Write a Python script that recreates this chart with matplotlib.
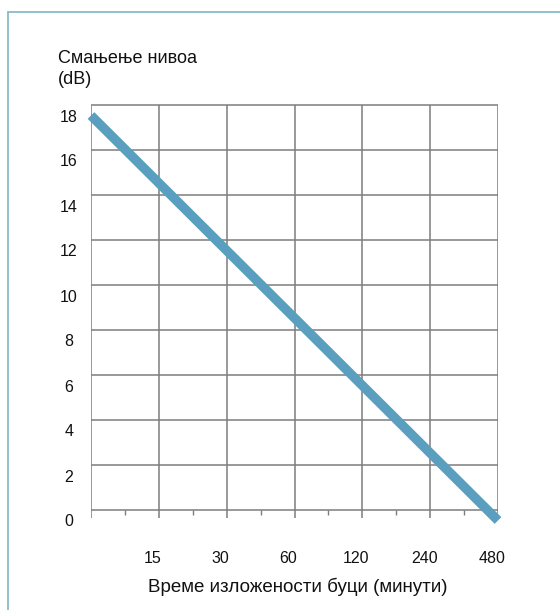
import numpy as np
import matplotlib
matplotlib.use('Agg')
import matplotlib.pyplot as plt
import matplotlib.patches as mpatches
from matplotlib.transforms import ScaledTranslation

plt.rcParams['font.family'] = ['Liberation Sans', 'DejaVu Sans']

# exposure time (minutes) vs level reduction (dB)
minutes = [7.5, 15, 30, 60, 120, 240, 480]
reduction = [18, 15, 12, 9, 6, 3, 0]
x_ticks = [15, 30, 60, 120, 240, 480]
x_tick_labels = ['15', '30', '60', '120', '240', '480']
y_ticks = [0, 2, 4, 6, 8, 10, 12, 14, 16, 18]

title = 'Смањење нивоа\n(dB)'
xlabel = 'Време изложености буци (минути)'

W, H = 560, 610
fig = plt.figure(figsize=(W / 100, H / 100), dpi=100)

# outer frame
frame = mpatches.Rectangle((8 / W, -0.1), 1.2, 1 - 12 / H + 0.1, transform=fig.transFigure,
                           fill=False, edgecolor='#7fb4c6', linewidth=1.2)
fig.patches.append(frame)

ax = fig.add_axes([91 / W, 1 - 530 / H, 407 / W, 430 / H])
ax.set_xscale('log', base=2)
ax.set_xlim(minutes[0], minutes[-1])
px_per_unit = 22.5
ax.set_ylim(-(530 - 520.5) / px_per_unit, (520.5 - 100) / px_per_unit)
for s in ax.spines.values():
    s.set_visible(False)

grid_off = 0.45  # grid sits slightly above the tick labels
grid_col = '#7d7d7d'
top = y_ticks[-1] + grid_off
ax.hlines([v + grid_off for v in y_ticks], minutes[0], minutes[-1], color=grid_col, lw=1.1, zorder=1)
ax.vlines(minutes, 0.1, top, color=grid_col, lw=1.1, zorder=1)
mids = np.sqrt(np.array(minutes[:-1]) * np.array(minutes[1:]))
ax.vlines(mids, 0.25, grid_off, color=grid_col, lw=1.0, zorder=1)

ax.plot(minutes, reduction, color='#5a9fbf', lw=6.8, solid_capstyle='butt', clip_on=False, zorder=3)

ax.set_yticks(y_ticks)
ax.set_yticklabels([str(v) for v in y_ticks], ha='center')
ax.set_xticks(x_ticks)
ax.set_xticklabels(x_tick_labels)
ax.xaxis.set_minor_locator(plt.NullLocator())
ax.tick_params(axis='y', length=0, pad=16, labelsize=11.5, colors='#111111')
ax.tick_params(axis='x', length=0, pad=15, labelsize=11.5, colors='#111111')
off = ScaledTranslation(-6 / 100, 0, fig.dpi_scale_trans)
for lab in ax.get_xticklabels():
    lab.set_transform(lab.get_transform() + off)

fig.text(298 / W, 1 - 587 / H, xlabel, ha='center', va='center', fontsize=13.5, color='#111111')
fig.text(58 / W, 1 - 50 / H, title, ha='left', va='top', fontsize=13, color='#111111',
         linespacing=1.3)

fig.savefig('out.png', dpi=100)
